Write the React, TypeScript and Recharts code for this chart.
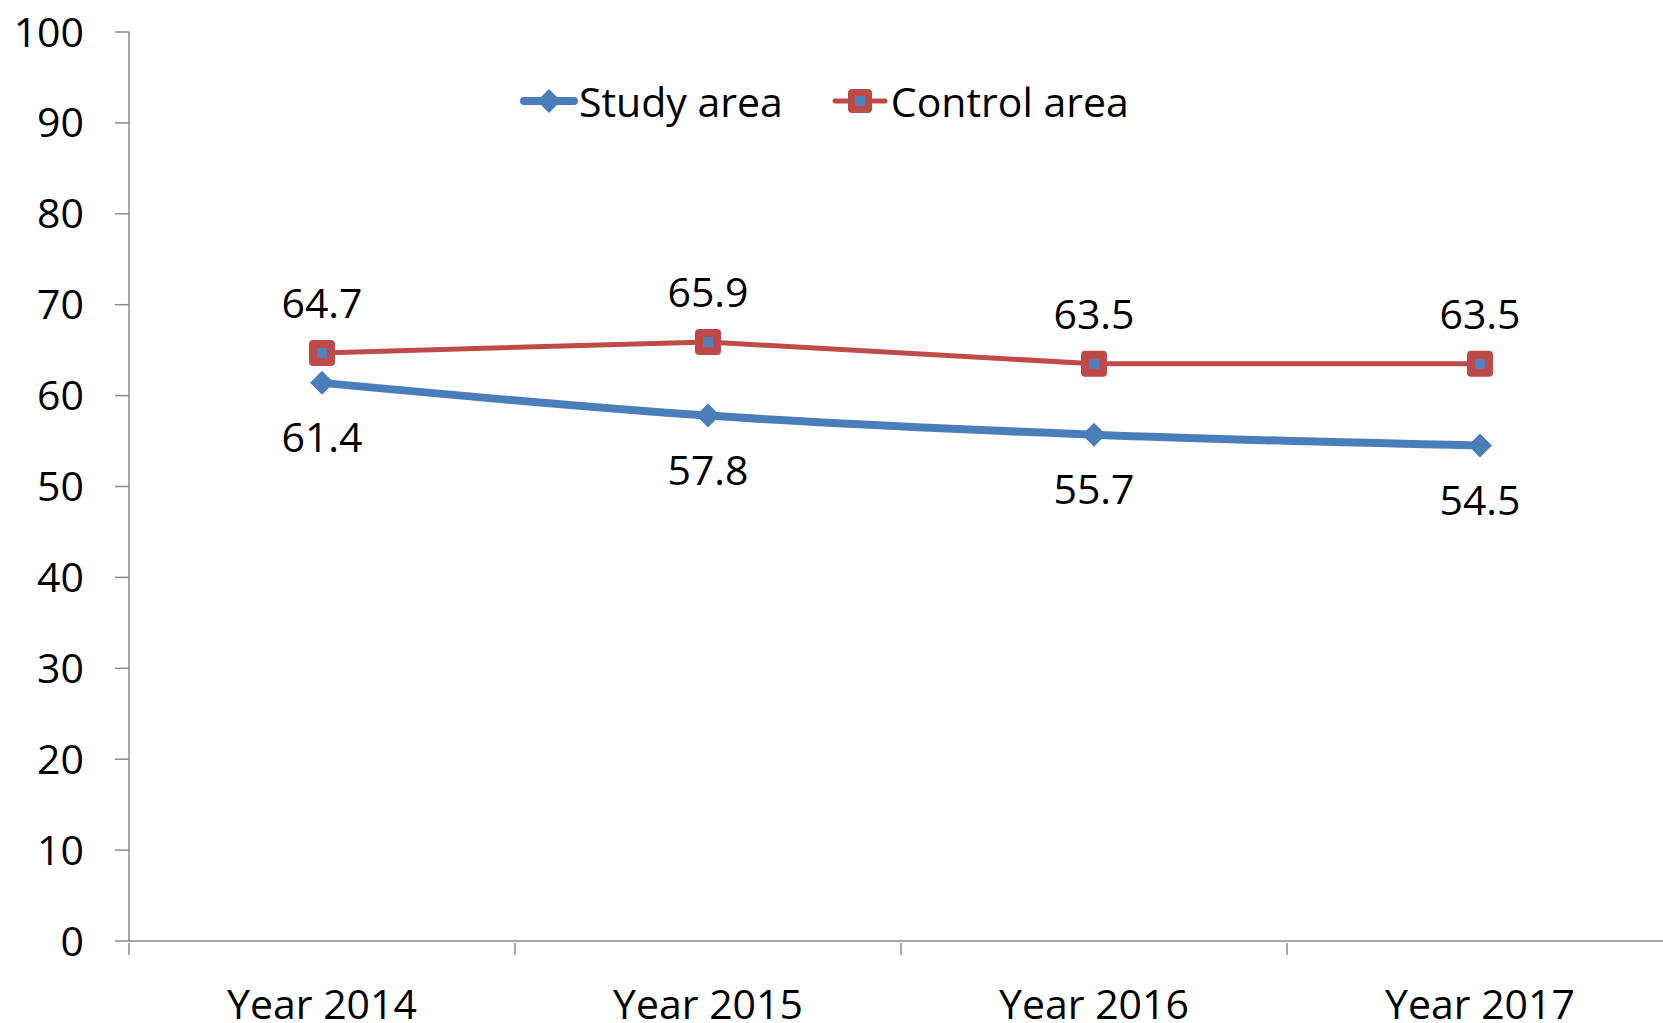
import { LineChart, Line, XAxis, YAxis, Legend, LabelList } from 'recharts'

const years = ['Year 2014', 'Year 2015', 'Year 2016', 'Year 2017']
const studyArea = [61.4, 57.8, 55.7, 54.5]
const controlArea = [64.7, 65.9, 63.5, 63.5]
const yTicks = [0, 10, 20, 30, 40, 50, 60, 70, 80, 90, 100]

const BLUE = '#4a7ebb'
const RED = '#be4b48'
const AXIS = '#8a8a8a'
const FONT = '"Open Sans", sans-serif'

const chartData = years.map((year, i) => ({
  year,
  study: studyArea[i],
  control: controlArea[i],
}))

const DiamondDot = (props: any) => {
  const { cx, cy } = props
  if (cx == null || cy == null) return null
  return <polygon points={`${cx},${cy - 12} ${cx + 12},${cy} ${cx},${cy + 12} ${cx - 12},${cy}`} fill={BLUE} />
}

const SquareDot = (props: any) => {
  const { cx, cy } = props
  if (cx == null || cy == null) return null
  return (
    <g>
      <rect x={cx - 13} y={cy - 13} width={26} height={26} rx={4} fill={RED} />
      <rect x={cx - 5} y={cy - 5} width={10} height={10} fill="#4f81bd" />
    </g>
  )
}

// category tick: label at band centre, tick marks at band edges (Excel style)
const YearTick = (props: any) => {
  const { x, y, payload, index, visibleTicksCount } = props
  const half = payload?.offset || 193
  const isLast = index === visibleTicksCount - 1
  return (
    <g>
      <line x1={x - half} y1={y} x2={x - half} y2={y + 12} stroke={AXIS} strokeWidth={1.5} />
      {isLast && <line x1={x + half} y1={y} x2={x + half} y2={y + 12} stroke={AXIS} strokeWidth={1.5} />}
      <text x={x} y={y + 76} textAnchor="middle" fill="#000" fontSize={41} fontFamily={FONT}>
        {payload.value}
      </text>
    </g>
  )
}

function LegendContent() {
  return (
    <div style={{ display: 'flex', alignItems: 'center', fontFamily: FONT, fontSize: 41, color: '#000', lineHeight: '56px' }}>
      <svg width={58} height={30}>
        <line x1={4} y1={15} x2={54} y2={15} stroke={BLUE} strokeWidth={8} strokeLinecap="round" />
        <polygon points="29,3 41,15 29,27 17,15" fill={BLUE} />
      </svg>
      <span style={{ marginLeft: 1 }}>Study area</span>
      <svg width={56} height={30} style={{ marginLeft: 49 }}>
        <line x1={3} y1={15} x2={53} y2={15} stroke={RED} strokeWidth={5} strokeLinecap="round" />
        <rect x={16} y={3} width={24} height={24} rx={4} fill={RED} />
        <rect x={23} y={10} width={10} height={10} fill="#4f81bd" />
      </svg>
      <span style={{ marginLeft: 3 }}>Control area</span>
    </div>
  )
}

export default function App() {
  return (
    <div style={{ position: 'absolute', left: 0, top: 0, width: 1663, height: 1023, overflow: 'hidden', background: '#fff' }}>
      <LineChart width={1673} height={1023} data={chartData} margin={{ top: 32, right: 0, bottom: 0, left: 0 }}>
        <YAxis
          domain={[0, 100]}
          ticks={yTicks}
          width={129}
          tickSize={14}
          tickMargin={31}
          axisLine={{ stroke: AXIS, strokeWidth: 1.5 }}
          tickLine={{ stroke: AXIS, strokeWidth: 1.5 }}
          tick={{ fill: '#000', fontSize: 41, fontFamily: FONT }}
        />
        <XAxis
          dataKey="year"
          scale="band"
          height={82}
          axisLine={{ stroke: AXIS, strokeWidth: 1.5 }}
          tickLine={false}
          tickSize={0}
          tick={<YearTick />}
          interval={0}
        />
        <Legend
          layout="horizontal"
          verticalAlign="middle"
          align="center"
          content={() => <LegendContent />}
          wrapperStyle={{ position: 'absolute', top: 73, left: 520, width: 'auto' }}
        />
        <Line
          dataKey="control"
          type="linear"
          stroke={RED}
          strokeWidth={5}
          dot={<SquareDot />}
          activeDot={false}
          isAnimationActive={false}
        >
          <LabelList dataKey="control" position="top" offset={35} fill="#000" fontSize={41} fontFamily={FONT} />
        </Line>
        <Line
          dataKey="study"
          type="monotone"
          stroke={BLUE}
          strokeWidth={8}
          dot={<DiamondDot />}
          activeDot={false}
          isAnimationActive={false}
        >
          <LabelList dataKey="study" position="bottom" offset={40} fill="#000" fontSize={41} fontFamily={FONT} />
        </Line>
      </LineChart>
    </div>
  )
}
